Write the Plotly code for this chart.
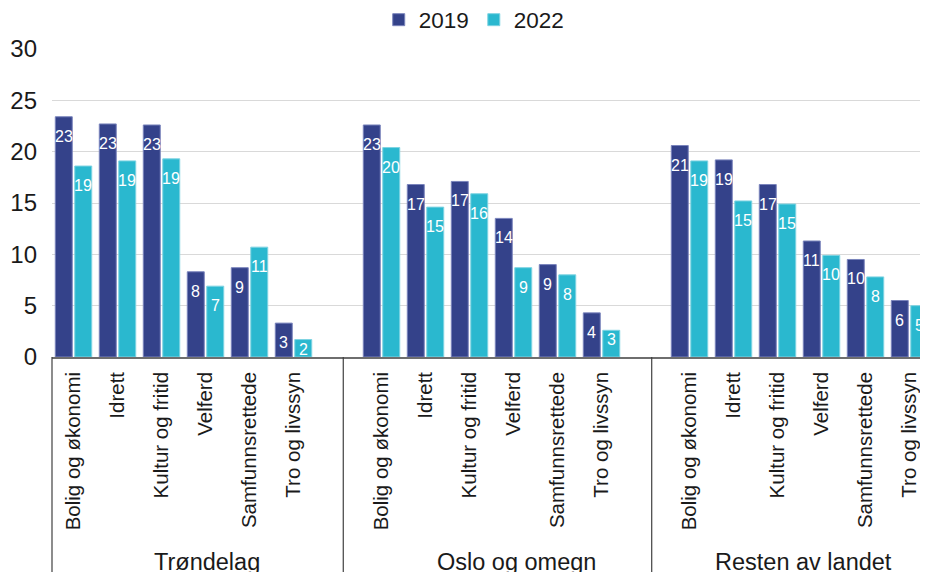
import plotly.graph_objects as go

# ---- data ----
regions = ["Trøndelag", "Oslo og omegn", "Resten av landet"]
categories = ["Bolig og økonomi", "Idrett", "Kultur og fritid", "Velferd",
              "Samfunnsrettede", "Tro og livssyn"]
series_names = ["2019", "2022"]
trondelag_2019 = [23.4, 22.7, 22.6, 8.3, 8.7, 3.3]
trondelag_2022 = [18.6, 19.1, 19.3, 6.9, 10.7, 1.7]
oslo_2019 = [22.6, 16.8, 17.1, 13.5, 9.0, 4.3]
oslo_2022 = [20.4, 14.6, 15.9, 8.7, 8.0, 2.6]
resten_2019 = [20.6, 19.2, 16.8, 11.3, 9.5, 5.5]
resten_2022 = [19.1, 15.2, 14.9, 9.9, 7.8, 5.0]
y_ticks = [0, 5, 10, 15, 20, 25, 30]

colors = {"2019": "#34428A", "2022": "#2AB8CF"}
outline = {"2019": "#7A84BC", "2022": "#7ED3E2"}
FONT = "Liberation Sans, Arial, sans-serif"

values = {
    "2019": [trondelag_2019, oslo_2019, resten_2019],
    "2022": [trondelag_2022, oslo_2022, resten_2022],
}

# category keys with a spacer slot between region groups
cat_keys, tick_vals, tick_text = [], [], []
for gi, reg in enumerate(regions):
    for c in categories:
        key = f"{reg}|{c}"
        cat_keys.append(key)
        tick_vals.append(key)
        tick_text.append(c)
    if gi < len(regions) - 1:
        cat_keys.append(" " * (gi + 1))

fig = go.Figure()
annotations = []
for si, s in enumerate(series_names):
    xs, ys = [], []
    for gi, reg in enumerate(regions):
        for ci, c in enumerate(categories):
            xs.append(f"{reg}|{c}")
            ys.append(values[s][gi][ci])
    fig.add_trace(go.Bar(
        x=xs, y=ys, name=s,
        marker=dict(color=colors[s], line=dict(color=outline[s], width=1)),
        hoverinfo="x+y",
    ))
    for x, y in zip(xs, ys):
        # short bars: label hugs the top of the bar
        shift = 1 if y < 3.0 else -9
        annotations.append(dict(
            x=x, y=y, xref="x", yref="y", text=f"{y:.0f}", showarrow=False,
            xshift=-9.75 if si == 0 else 9.75, yshift=shift, yanchor="top",
            xanchor="center", font=dict(family=FONT, size=16, color="white"),
        ))

# group labels
group_centers = [0.1764, 0.530, 0.858]
for reg, xc in zip(regions, group_centers):
    annotations.append(dict(
        x=xc, y=-0.618, xref="paper", yref="paper", text=reg, showarrow=False,
        xanchor="center", yanchor="top",
        font=dict(family=FONT, size=23.5, color="#1a1a1a"),
    ))

# divider lines below the axis
shapes = []
for xp in [0.0, 0.3325, 0.6846]:
    shapes.append(dict(type="line", xref="paper", yref="paper",
                       x0=xp, x1=xp, y0=0, y1=-0.75,
                       line=dict(color="#404040", width=1.2)))

# the page body has an 8px margin, so the figure is 8px smaller than the window
fig.update_layout(
    width=920, height=564,
    margin=dict(l=44, r=0, t=41, b=215, autoexpand=False),
    paper_bgcolor="white", plot_bgcolor="white",
    barmode="group", bargap=0.114, bargroupgap=0.13,
    font=dict(family=FONT, color="#1a1a1a"),
    showlegend=True,
    legend=dict(orientation="h", x=0.482, xanchor="center", y=1.094, yanchor="middle",
                font=dict(family=FONT, size=22.5, color="#1a1a1a"),
                itemwidth=30, traceorder="normal"),
    annotations=annotations,
    shapes=shapes,
    xaxis=dict(
        type="category", categoryorder="array", categoryarray=cat_keys,
        range=[-0.489, 19.42], tickmode="array", tickvals=tick_vals,
        ticktext=tick_text, tickangle=-90, ticks="",
        tickfont=dict(family=FONT, size=20.5, color="#1a1a1a"),
        showline=True, linecolor="#6e6e6e", linewidth=1.5,
        showgrid=False, zeroline=False, ticklabelstandoff=5,
    ),
    yaxis=dict(
        range=[0, 30], tickmode="array", tickvals=y_ticks,
        tickfont=dict(family=FONT, size=24, color="#1a1a1a"),
        showgrid=True, gridcolor="#d9d9d9", gridwidth=1.2,
        zeroline=False, showline=False, ticks="", ticklabelstandoff=14,
    ),
)

fig.write_html("out.html")
